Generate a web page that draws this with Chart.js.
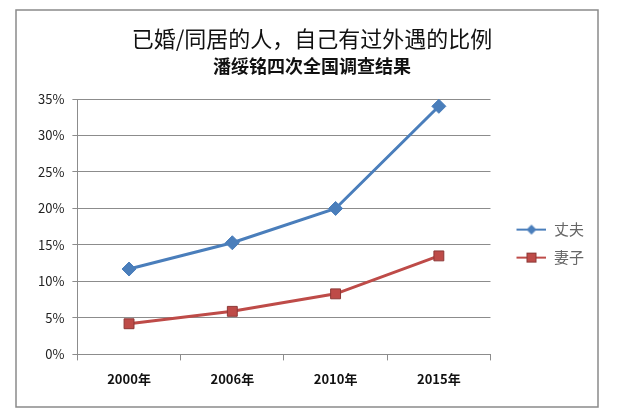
<!DOCTYPE html>
<html>
<head>
<meta charset="utf-8">
<script src="https://cdn.jsdelivr.net/npm/chart.js@4"></script>
<style>
  html, body { margin: 0; padding: 0; background: #fff; }
  #wrap { width: 640px; height: 414px; }
</style>
</head>
<body>
<div id="wrap"><canvas id="mainChart" width="640" height="414"></canvas></div>
<script>
// chart data
const years = ['2000年', '2006年', '2010年', '2015年'];
const husbands = [11.7, 15.3, 20.0, 34.0];
const wives = [4.2, 5.9, 8.3, 13.5];
const seriesNames = ['丈夫', '妻子'];
const titleText = '已婚/同居的人，自己有过外遇的比例';
const subtitleText = '潘绥铭四次全国调查结果';

const FONT = "'Noto Sans CJK SC', 'Liberation Sans', sans-serif";
const BLUE = '#4a7ebb';
const RED = '#be4b48';

// little line + marker swatch for the legend (blank strip on the left as spacing)
function swatch(color, kind) {
    const c = document.createElement('canvas');
    c.width = 43; c.height = 14;
    const g = c.getContext('2d');
    g.strokeStyle = color;
    g.lineWidth = 2;
    g.beginPath(); g.moveTo(13, 7); g.lineTo(43, 7); g.stroke();
    g.fillStyle = color;
    if (kind === 'diamond') {
        g.beginPath();
        g.moveTo(28, 2); g.lineTo(33, 7); g.lineTo(28, 12); g.lineTo(23, 7);
        g.closePath(); g.fill();
    } else {
        g.fillRect(23, 2, 10, 10);
        g.strokeStyle = '#8c3836'; g.lineWidth = 1;
        g.strokeRect(23.5, 2.5, 9, 9);
    }
    return c;
}
const swatches = [swatch(BLUE, 'diamond'), swatch(RED, 'square')];

const frame = {
    id: 'frame',
    beforeDraw(chart) {
        const ctx = chart.ctx;
        ctx.save();
        ctx.fillStyle = '#fff';
        ctx.fillRect(0, 0, chart.width, chart.height);
        ctx.strokeStyle = '#8a8a8a';
        ctx.lineWidth = 1.5;
        ctx.strokeRect(16, 10, 582, 397);
        ctx.restore();
    }
};

const ctx = document.getElementById('mainChart').getContext('2d');
new Chart(ctx, {
    type: 'line',
    data: {
        labels: years,
        datasets: [{
            label: seriesNames[0],
            data: husbands,
            borderColor: BLUE,
            backgroundColor: BLUE,
            borderWidth: 3,
            pointStyle: 'rectRot',
            pointRadius: 7,
            pointBackgroundColor: BLUE,
            pointBorderColor: BLUE,
            pointBorderWidth: 1,
            tension: 0
        }, {
            label: seriesNames[1],
            data: wives,
            borderColor: RED,
            backgroundColor: RED,
            borderWidth: 3,
            pointStyle: 'rect',
            pointRadius: 7,
            pointBackgroundColor: RED,
            pointBorderColor: '#8c3836',
            pointBorderWidth: 1,
            tension: 0
        }]
    },
    options: {
        responsive: false,
        animation: false,
        layout: { padding: { left: 30, right: 46, top: 20, bottom: 16 } },
        plugins: {
            title: {
                display: true,
                text: titleText,
                color: '#111',
                font: { family: FONT, size: 22, weight: 'normal' },
                padding: { top: 5, bottom: 4 }
            },
            subtitle: {
                display: true,
                text: subtitleText,
                color: '#111',
                font: { family: FONT, size: 18, weight: 'bold' },
                padding: { top: 0, bottom: 22 }
            },
            legend: {
                position: 'right',
                title: { display: true, text: ' ', font: { size: 1 }, padding: { top: 68, bottom: 0 } },
                labels: {
                    usePointStyle: true,
                    pointStyleWidth: 43,
                    padding: 13,
                    color: '#222',
                    font: { family: FONT, size: 15 },
                    generateLabels: (chart) => chart.data.datasets.map((ds, i) => ({
                        text: ds.label,
                        pointStyle: swatches[i],
                        fillStyle: ds.borderColor,
                        strokeStyle: ds.borderColor,
                        lineWidth: 0,
                        datasetIndex: i,
                        hidden: false
                    }))
                }
            },
            tooltip: { enabled: false }
        },
        scales: {
            y: {
                min: 0,
                max: 35,
                ticks: {
                    stepSize: 5,
                    color: '#222',
                    padding: 8,
                    font: { family: FONT, size: 13 },
                    callback: (v) => v + '%'
                },
                grid: { color: '#8c8c8c', lineWidth: 1, tickLength: 5 },
                border: { color: '#8c8c8c' }
            },
            x: {
                offset: true,
                ticks: {
                    color: '#111',
                    padding: 11,
                    font: { family: FONT, size: 13, weight: 'bold' }
                },
                grid: { offset: true, drawOnChartArea: false, color: '#8c8c8c', tickLength: 6 },
                border: { color: '#8c8c8c' }
            }
        }
    },
    plugins: [frame]
});
</script>
</body>
</html>
